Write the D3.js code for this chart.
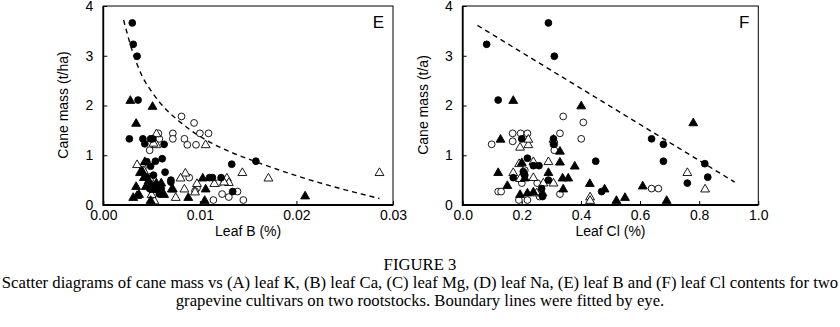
<!DOCTYPE html>
<html>
<head>
<meta charset="utf-8">
<script src="https://cdn.jsdelivr.net/npm/d3@7"></script>
<style>
  body { margin: 0; background: #fff; }
  svg { display: block; }
  .tick text { font-family: "Liberation Sans", Arial, sans-serif; font-size: 14px; fill: #000; }
  .tick line { stroke: #000; }
  .axis-title { font-family: "Liberation Sans", Arial, sans-serif; font-size: 14px; }
  .panel-letter { font-family: "Liberation Sans", Arial, sans-serif; font-size: 17px; }
  .caption { font-family: "Liberation Serif", "Times New Roman", serif; font-size: 16.7px; }
</style>
</head>
<body>
<div id="chart"></div>
<script>
// tick labels
const yTicks = [0, 1, 2, 3, 4];
const xTicksE = [0, 0.01, 0.02, 0.03];
const xTicksF = [0, 0.2, 0.4, 0.6, 0.8, 1.0];

// panel E: leaf B (%) vs cane mass
const eFilledCircle = [[0.0030,3.66],[0.0031,3.23],[0.0035,2.99],[0.0036,2.11],[0.0027,1.33],[0.0041,1.33],
  [0.0043,1.23],[0.0049,1.33],[0.0051,1.33],[0.0063,1.22],[0.0061,0.93],[0.0054,0.88],[0.0045,0.87],
  [0.0049,0.78],[0.0064,0.66],[0.0070,0.50],[0.0070,0.46],[0.0133,0.82],[0.0158,0.88],[0.0110,0.55],
  [0.0113,0.55],[0.0122,0.55],[0.0134,0.27],[0.0050,0.40],[0.0055,0.32],[0.0048,0.33],[0.0060,0.33],
  [0.0058,0.22],[0.0045,0.55],[0.0052,0.60]];
const eFilledTriangle = [[0.0028,2.11],[0.0051,1.99],[0.0034,1.65],[0.0043,0.88],[0.0038,0.66],[0.0042,0.56],
  [0.0040,0.70],[0.0034,0.38],[0.0044,0.38],[0.0031,0.16],[0.0037,0.22],[0.0049,0.10],[0.0052,0.32],
  [0.0060,0.45],[0.0063,0.22],[0.0071,0.33],[0.0072,0.33],[0.0088,0.16],[0.0105,0.10],[0.0103,0.55],
  [0.0106,0.33],[0.0209,0.19],[0.0047,0.50],[0.0055,0.45],[0.0035,0.20]];
const eOpenCircle = [[0.0081,1.78],[0.0094,1.65],[0.0100,1.44],[0.0109,1.44],[0.0072,1.44],[0.0072,1.33],
  [0.0084,1.33],[0.0087,1.21],[0.0096,1.21],[0.0058,1.33],[0.0048,1.10],[0.0089,0.55],[0.0119,0.44],
  [0.0097,0.34],[0.0095,0.28],[0.0114,0.10],[0.0123,0.22],[0.0130,0.16],[0.0139,0.27],[0.0145,0.10],
  [0.0057,1.44],[0.0041,0.75]];
const eOpenTriangle = [[0.0055,1.44],[0.0055,1.22],[0.0052,1.25],[0.0035,0.82],[0.0042,0.70],[0.0085,0.65],
  [0.0080,0.55],[0.0097,0.44],[0.0084,0.33],[0.0106,1.22],[0.0075,0.16],[0.0053,0.09],[0.0095,0.27],
  [0.0128,0.55],[0.0130,0.46],[0.0144,0.66],[0.0171,0.55],[0.0286,0.66],[0.0115,0.44],[0.0125,0.47],
  [0.0048,0.55],[0.0050,0.22]];
const eBoundary = [[0.0021,3.72],[0.0030,3.10],[0.0040,2.60],[0.0050,2.28],[0.0065,1.92],[0.0080,1.66],
  [0.0100,1.38],[0.0130,1.08],[0.0158,0.87],[0.0203,0.57],[0.0286,0.13]];

// panel F: leaf Cl (%) vs cane mass
const fFilledCircle = [[0.081,3.23],[0.29,3.66],[0.31,2.99],[0.12,2.11],[0.20,1.33],[0.307,1.22],[0.307,1.33],
  [0.219,0.94],[0.205,0.67],[0.171,0.55],[0.239,0.79],[0.258,0.79],[0.267,0.33],[0.29,0.50],[0.27,0.17],
  [0.45,0.88],[0.47,0.27],[0.639,1.33],[0.679,1.22],[0.679,0.88],[0.819,0.83],[0.829,0.56],[0.76,0.44],
  [0.21,0.60]];
const fFilledTriangle = [[0.171,2.11],[0.128,1.33],[0.12,0.66],[0.151,0.40],[0.20,0.86],[0.194,0.22],
  [0.219,0.25],[0.401,2.00],[0.329,1.09],[0.329,0.87],[0.379,0.79],[0.29,0.66],[0.338,0.55],[0.357,0.55],
  [0.34,0.33],[0.43,0.44],[0.48,0.33],[0.52,0.10],[0.239,0.27],[0.27,0.25],[0.78,1.66],[0.609,0.39],
  [0.549,0.16],[0.69,0.10],[0.21,0.55]];
const fOpenCircle = [[0.098,1.22],[0.169,1.44],[0.169,1.28],[0.196,1.44],[0.219,1.44],[0.34,1.78],[0.408,1.66],
  [0.329,1.44],[0.31,1.22],[0.31,1.10],[0.401,1.33],[0.12,0.27],[0.13,0.27],[0.21,0.70],[0.20,0.44],
  [0.252,0.44],[0.19,0.10],[0.219,0.10],[0.26,0.17],[0.329,0.22],[0.639,0.33],[0.662,0.33]];
const fOpenTriangle = [[0.194,1.17],[0.222,1.22],[0.222,1.33],[0.191,0.84],[0.171,0.66],[0.239,0.88],
  [0.194,0.54],[0.239,0.56],[0.25,0.25],[0.29,0.88],[0.273,0.45],[0.307,0.45],[0.307,1.33],[0.431,0.17],
  [0.431,0.10],[0.76,0.66],[0.82,0.33]];
const fBoundary = [[0.05,3.61],[0.92,0.46]];

const captionLines = [
  "FIGURE 3",
  "Scatter diagrams of cane mass vs (A) leaf K, (B) leaf Ca, (C) leaf Mg, (D) leaf Na, (E) leaf B and (F) leaf Cl contents for two",
  "grapevine cultivars on two rootstocks. Boundary lines were fitted by eye."
];

const W = 840, H = 327;
const svg = d3.select("#chart").append("svg")
    .attr("width", W)
    .attr("height", H);

function drawPanel(p) {
  const x = d3.scaleLinear().domain(p.xDomain).range([p.left, p.right]);
  const y = d3.scaleLinear().domain([0, 4]).range([205, 6]);
  const g = svg.append("g");

  // frame
  g.append("rect")
    .attr("x", p.left).attr("y", 6)
    .attr("width", p.right - p.left).attr("height", 199)
    .attr("fill", "none").attr("stroke", "#000").attr("stroke-width", 1);
  g.append("path")
    .attr("d", `M${p.left},6V205H${p.right}`)
    .attr("fill", "none").attr("stroke", "#000").attr("stroke-width", 1.8);

  g.append("g")
    .attr("transform", "translate(0,205)")
    .call(d3.axisBottom(x).tickValues(p.xTicks).tickFormat(d3.format(p.xFormat))
      .tickSizeInner(-4).tickSizeOuter(0).tickPadding(5))
    .call(a => a.select(".domain").remove());

  g.append("g")
    .attr("transform", `translate(${p.left},0)`)
    .call(d3.axisLeft(y).tickValues(yTicks).tickFormat(d3.format("d"))
      .tickSizeInner(-4).tickSizeOuter(0).tickPadding(10))
    .call(a => a.select(".domain").remove());

  // boundary line
  g.append("path")
    .datum(p.boundary)
    .attr("d", d3.line().x(d => x(d[0])).y(d => y(d[1])).curve(d3.curveMonotoneX))
    .attr("fill", "none").attr("stroke", "#000")
    .attr("stroke-width", 1.4).attr("stroke-dasharray", "5,4");

  const tri = d3.symbol(d3.symbolTriangle, 34);
  const series = [
    {data: p.oc, shape: "circle", fill: "#fff"},
    {data: p.ot, shape: "triangle", fill: "#fff"},
    {data: p.fc, shape: "circle", fill: "#000"},
    {data: p.ft, shape: "triangle", fill: "#000"}
  ];
  series.forEach(s => {
    if (s.shape === "circle") {
      g.selectAll(null).data(s.data).join("circle")
        .attr("cx", d => x(d[0])).attr("cy", d => y(d[1])).attr("r", 3.4)
        .attr("fill", s.fill).attr("stroke", "#000").attr("stroke-width", 0.9);
    } else {
      g.selectAll(null).data(s.data).join("path")
        .attr("d", tri)
        .attr("transform", d => `translate(${x(d[0])},${y(d[1]) + 0.8})`)
        .attr("fill", s.fill).attr("stroke", "#000").attr("stroke-width", 0.9);
    }
  });

  g.append("text")
    .attr("class", "axis-title")
    .attr("x", (p.left + p.right) / 2).attr("y", 236)
    .attr("text-anchor", "middle")
    .text(p.xTitle);

  g.append("text")
    .attr("class", "axis-title")
    .attr("transform", `translate(${p.left - 35},105) rotate(-90)`)
    .attr("text-anchor", "middle")
    .text(p.yTitle);

  g.append("text")
    .attr("class", "panel-letter")
    .attr("x", p.right - 9).attr("y", 28)
    .attr("text-anchor", "end")
    .text(p.letter);
}

drawPanel({
  left: 103.3, right: 393, xDomain: [0, 0.03], xTicks: xTicksE, xFormat: ".2f",
  fc: eFilledCircle, ft: eFilledTriangle, oc: eOpenCircle, ot: eOpenTriangle, boundary: eBoundary,
  xTitle: "Leaf B (%)", yTitle: "Cane mass (t/ha)", letter: "E"
});

drawPanel({
  left: 462.7, right: 758.3, xDomain: [0, 1.0], xTicks: xTicksF, xFormat: ".1f",
  fc: fFilledCircle, ft: fFilledTriangle, oc: fOpenCircle, ot: fOpenTriangle, boundary: fBoundary,
  xTitle: "Leaf Cl (%)", yTitle: "Cane mass (t/a)", letter: "F"
});

// caption
svg.selectAll(".caption")
  .data(captionLines)
  .join("text")
    .attr("class", "caption")
    .attr("x", W / 2)
    .attr("y", (d, i) => 270 + i * 18)
    .attr("text-anchor", "middle")
    .text(d => d);
</script>
</body>
</html>
